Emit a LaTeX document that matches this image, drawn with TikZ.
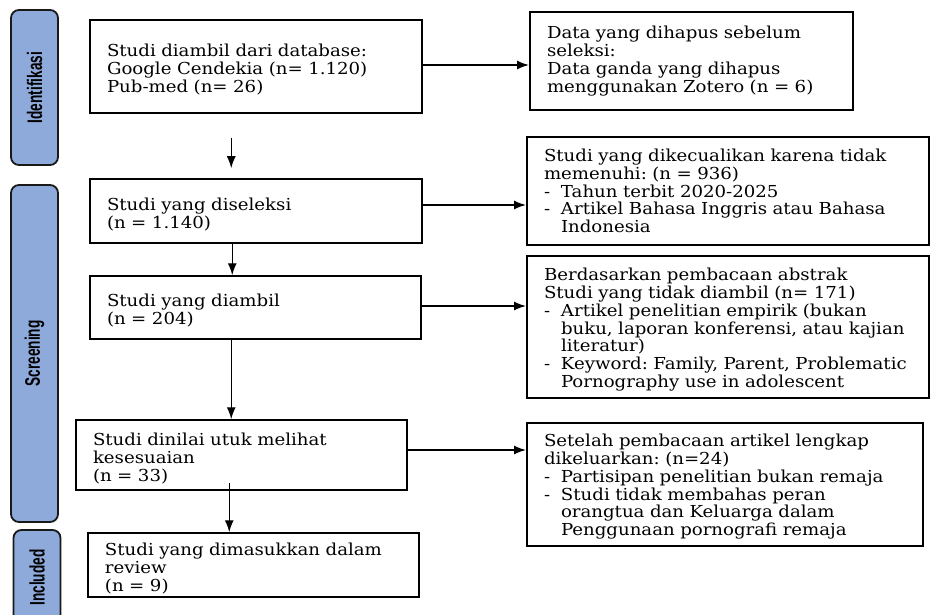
\documentclass[tikz,border=0pt]{standalone}
\usepackage{fontspec}
\setmainfont{DejaVu Serif}[FakeStretch=1.1]
\setsansfont{Liberation Sans}
\usetikzlibrary{arrows.meta, positioning, calc}

\definecolor{phaseblue}{HTML}{8EAADB}
\newcommand{\listdash}{\makebox[17pt][l]{-}}
\newcommand{\listgap}{\hspace*{17pt}}

\begin{document}
\begin{tikzpicture}[x=1pt, y=-1pt]
        \tikzstyle{phase} = [rectangle, rounded corners=8pt, draw=black!90, line width=1.8pt, fill=phaseblue, rotate=90, minimum height=47pt, font=\sffamily\bfseries\fontsize{21}{22}\selectfont]
        \tikzstyle{box} = [rectangle, draw=black, line width=1.5pt, align=left, inner xsep=0pt, inner ysep=0pt, font=\frenchspacing\fontsize{16.5}{17.8}\selectfont, execute at begin node={\leftskip=17pt\rightskip=-12pt plus 1fil\relax}]
        \tikzstyle{study} = [box, text height=19pt]
        \tikzstyle{excluded} = [box, line width=2pt]
        \tikzstyle{arrow} = [-{Latex[length=12pt, width=9pt]}, line width=1.4pt]
        \useasboundingbox (0,0) rectangle (930,615);

        % phases
        \node[phase, minimum width=155pt] (identifikasi) at (34.5,87.5) {\scalebox{0.65}[1]{Identifikasi}};
        \node[phase, minimum width=337pt] (screening) at (34.5,353.5) {\scalebox{0.65}[1]{Screening}};
        \node[phase, minimum width=95pt] (included) at (37,577.5) {\scalebox{0.65}[1]{Included}};

        % left column
        \node[study, text width=332pt, minimum height=93pt] (records) at (256,66.5) {Studi diambil dari database:\\ Google Cendekia (n= 1.120)\\ Pub-med (n= 26)};
        \node[study, text width=332pt, minimum height=64pt] (screened) at (256,211) {Studi yang diseleksi\\ (n = 1.140)};
        \node[study, text width=331pt, minimum height=63pt] (retrieved) at (255.5,307.5) {Studi yang diambil\\ (n = 204)};
        \node[study, text width=331pt, minimum height=70pt] (assessed) at (241.5,455) {Studi dinilai utuk melihat\\ kesesuaian\\ (n = 33)};
        \node[study, text width=331pt, minimum height=64pt] (review) at (253.5,565) {Studi yang dimasukkan dalam\\ review\\ (n = 9)};

        % right column
        \node[excluded, text width=323pt, minimum height=98pt] (removed) at (691.5,61) {Data yang dihapus sebelum\\ seleksi:\\ Data ganda yang dihapus\\ menggunakan Zotero (n = 6)};
        \node[excluded, text width=402pt, minimum height=108pt] (notEligible) at (728,191) {Studi yang dikecualikan karena tidak\\ memenuhi: (n = 936)\\ \listdash Tahun terbit 2020-2025\\ \listdash Artikel Bahasa Inggris atau Bahasa\\ \listgap Indonesia};
        \node[excluded, text width=402pt, minimum height=142pt, text height=18pt] (notRetrieved) at (728,327) {Berdasarkan pembacaan abstrak\\ Studi yang tidak diambil (n= 171)\\ \listdash Artikel penelitian empirik (bukan\\ \listgap buku, laporan konferensi, atau kajian\\ \listgap literatur)\\ \listdash Keyword: Family, Parent, Problematic\\ \listgap Pornography use in adolescent};
        \node[excluded, text width=396pt, minimum height=123pt, text height=17pt] (fullText) at (725,484.5) {Setelah pembacaan artikel lengkap\\ dikeluarkan: (n=24)\\ \listdash Partisipan penelitian bukan remaja\\ \listdash Studi tidak membahas peran\\ \listgap orangtua dan Keluarga dalam\\ \listgap Penggunaan pornografi remaja};

        % downward flow
        \draw[arrow] ([xshift=142pt, yshift=-24pt]records.south west) -- ([xshift=142pt, yshift=10pt]screened.north west);
        \draw[arrow] ([xshift=143pt]screened.south west) -- ([xshift=143pt]retrieved.north west);
        \draw[arrow] ([xshift=142pt]retrieved.south west) -- ([xshift=156pt]assessed.north west);
        \draw[arrow] ([xshift=154pt, yshift=8pt]assessed.south west) -- ([xshift=142pt]review.north west);

        % exclusions
        \draw[arrow] ([yshift=1.5pt]records.east) -- ([yshift=1.5pt]records.east -| removed.west);
        \draw[arrow] ([yshift=6pt]screened.east) -- ([yshift=6pt]screened.east -| notEligible.west);
        \draw[arrow] ([yshift=1.5pt]retrieved.east) -- ([yshift=1.5pt]retrieved.east -| notRetrieved.west);
        \draw[arrow] ([yshift=5pt]assessed.east) -- ([yshift=5pt]assessed.east -| fullText.west);
\end{tikzpicture}
\end{document}
